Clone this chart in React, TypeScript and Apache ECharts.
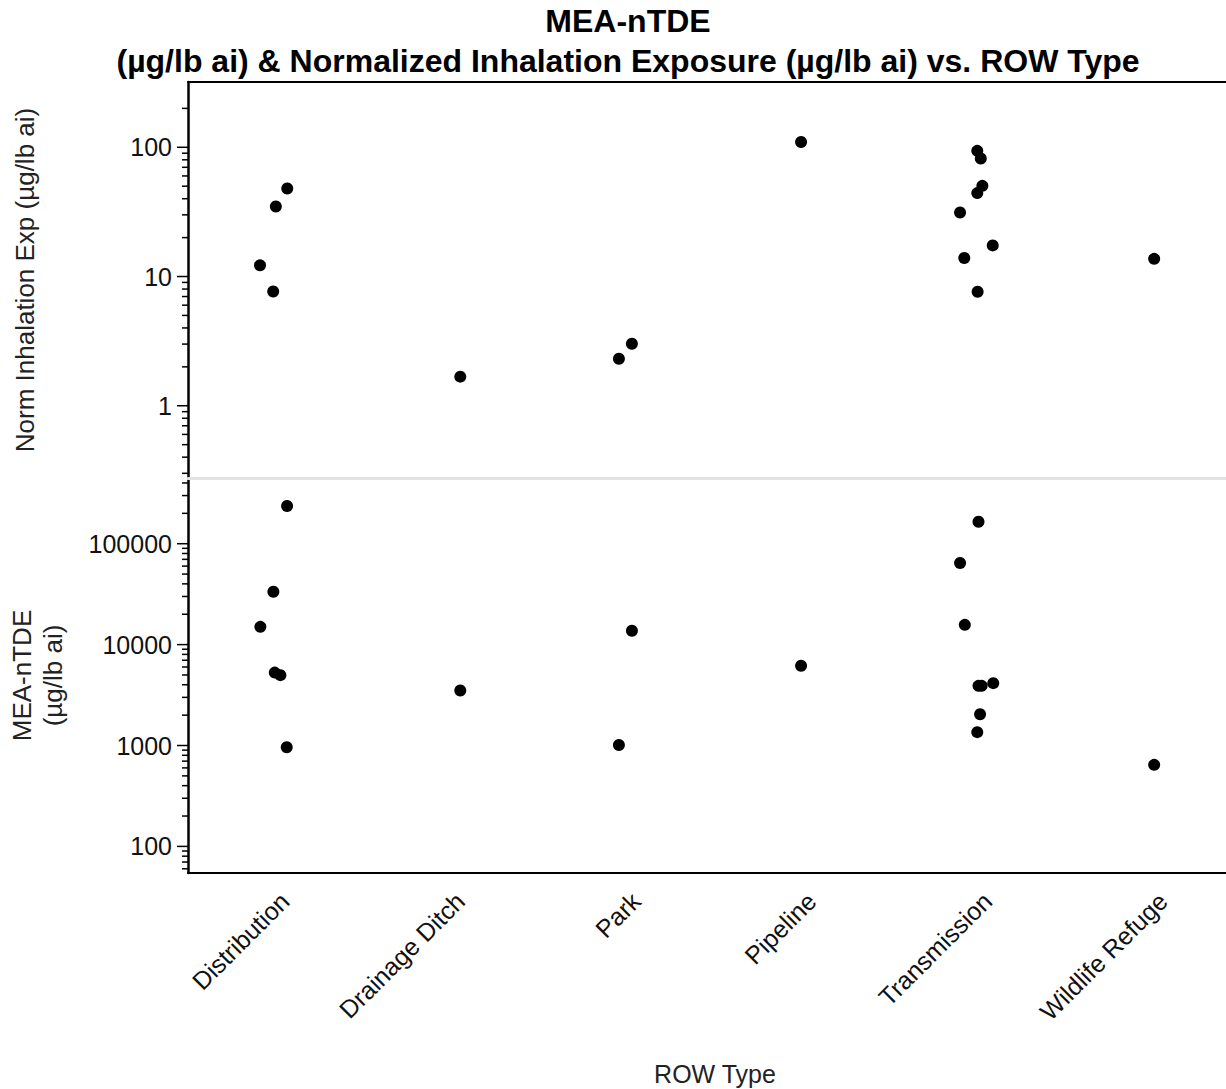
import React, { useEffect, useRef } from "react";
import * as echarts from "echarts";

const categories = [
  "Distribution",
  "Drainage Ditch",
  "Park",
  "Pipeline",
  "Transmission",
  "Wildlife Refuge",
];

// [category index, horizontal jitter (fraction of a band), value]
const inhalationPoints: [number, number, number][] = [
  [0, 0.065, 48],
  [0, 0.0, 34.8],
  [0, -0.09, 12.2],
  [0, -0.015, 7.66],
  [1, 0.05, 1.68],
  [2, -0.047, 2.31],
  [2, 0.027, 3.02],
  [3, -0.01, 110],
  [4, -0.007, 93.8],
  [4, 0.013, 81.8],
  [4, 0.022, 50.3],
  [4, -0.007, 44.2],
  [4, -0.105, 31.3],
  [4, 0.081, 17.4],
  [4, -0.081, 13.9],
  [4, -0.005, 7.62],
  [5, 0.0, 13.7],
];

const meaPoints: [number, number, number][] = [
  [0, 0.064, 236600],
  [0, -0.014, 33400],
  [0, -0.088, 15000],
  [0, -0.006, 5280],
  [0, 0.026, 4980],
  [0, 0.062, 962],
  [1, 0.05, 3510],
  [2, 0.027, 13700],
  [2, -0.047, 1010],
  [3, -0.01, 6170],
  [4, 0.0, 165000],
  [4, -0.105, 64400],
  [4, -0.078, 15700],
  [4, 0.0, 3900],
  [4, 0.018, 3900],
  [4, 0.084, 4150],
  [4, 0.009, 2040],
  [4, -0.007, 1356],
  [5, 0.0, 643],
];

const inhalationMajorTicks = [1, 10, 100];
const inhalationMinorTicks = [
  0.3, 0.4, 0.5, 0.6, 0.7, 0.8, 0.9, 2, 3, 4, 5, 6, 7, 8, 9, 20, 30, 40, 50,
  60, 70, 80, 90, 200,
];
const meaMajorTicks = [100, 1000, 10000, 100000];
const meaMinorTicks = [
  60, 70, 80, 90, 200, 300, 400, 500, 600, 700, 800, 900, 2000, 3000, 4000,
  5000, 6000, 7000, 8000, 9000, 20000, 30000, 40000, 50000, 60000, 70000,
  80000, 90000, 200000, 300000, 400000,
];

const inhalationRange = [0.276, 320];
const meaRange = [54.5, 448000];

const titleText =
  "MEA-nTDE\n(µg/lb ai) & Normalized Inhalation Exposure (µg/lb ai) vs. ROW Type";
const inhalationAxisName = "Norm Inhalation Exp (µg/lb ai)";
const meaAxisName = "MEA-nTDE\n(µg/lb ai)";
const xAxisName = "ROW Type";

const FONT = "'Liberation Sans', Arial, sans-serif";

function labelFormatter(ticks: number[]) {
  return (v: number) => {
    const hit = ticks.find(
      (t) => Math.abs(Math.log10(v) - Math.log10(t)) < 1e-6
    );
    return hit !== undefined ? String(hit) : "";
  };
}

function tickSeries(
  ticks: number[],
  len: number,
  xAxisIndex: number,
  yAxisIndex: number
) {
  return {
    type: "custom",
    xAxisIndex,
    yAxisIndex,
    silent: true,
    clip: false,
    z: 5,
    data: ticks.map((v) => [0, v]),
    renderItem: (params: any, api: any) => {
      const y = api.coord([0, api.value(1)])[1];
      const x0 = params.coordSys.x;
      return {
        type: "line",
        shape: { x1: x0 - len, y1: y, x2: x0, y2: y },
        style: { stroke: "#000", lineWidth: 1.5 },
      };
    },
  };
}

export default function App() {
  const ref = useRef<HTMLDivElement>(null);

  useEffect(() => {
    if (!ref.current) return;
    const chart = echarts.init(ref.current, undefined, { renderer: "svg" });

    const hiddenValueX = (gridIndex: number, position: string, lineStyle: any) => ({
      type: "value",
      gridIndex,
      position,
      min: -0.5,
      max: 5.5,
      axisLine: { show: true, onZero: false, lineStyle },
      axisTick: { show: false },
      axisLabel: { show: false },
      splitLine: { show: false },
    });

    const logY = (
      gridIndex: number,
      range: number[],
      ticks: number[],
      name: string,
      nameGap: number
    ) => ({
      type: "log",
      logBase: 10,
      gridIndex,
      min: range[0],
      max: range[1],
      name,
      nameLocation: "middle",
      nameGap,
      nameMoveOverlap: false,
      nameTextStyle: {
        fontSize: 26,
        color: "#222",
        fontFamily: FONT,
        lineHeight: 31,
        align: "center",
      },
      axisLine: { show: true, onZero: false, lineStyle: { color: "#000", width: 2.5 } },
      axisTick: { show: false },
      minorTick: { show: false },
      splitLine: { show: false },
      axisLabel: {
        fontSize: 25,
        color: "#111",
        fontFamily: FONT,
        margin: 16,
        formatter: labelFormatter(ticks),
      },
    });

    const scatterStyle = { color: "#000", opacity: 1 };

    const option: any = {
      animation: false,
      backgroundColor: "#fff",
      textStyle: { fontFamily: FONT },
      title: {
        text: titleText,
        left: 623,
        top: -4,
        textAlign: "center",
        textStyle: {
          fontSize: 32,
          fontWeight: "bold",
          color: "#000",
          fontFamily: FONT,
          lineHeight: 40,
        },
      },
      grid: [
        { left: 188, top: 82, width: 1054, height: 396, containLabel: false, outerBoundsMode: "none" },
        { left: 188, top: 478, width: 1054, height: 395, containLabel: false, outerBoundsMode: "none" },
      ],
      xAxis: [
        hiddenValueX(0, "bottom", { color: "#e2e2e2", width: 3 }),
        hiddenValueX(0, "top", { color: "#000", width: 2 }),
        hiddenValueX(1, "bottom", { color: "#000", width: 2 }),
        {
          type: "category",
          gridIndex: 1,
          position: "bottom",
          data: categories,
          boundaryGap: true,
          axisLine: { show: false },
          axisTick: { show: false },
          splitLine: { show: false },
          axisLabel: {
            rotate: 45,
            interval: 0,
            fontSize: 25,
            color: "#111",
            fontFamily: FONT,
            margin: 15,
            verticalAlign: "top",
          },
          name: xAxisName,
          nameLocation: "middle",
          nameGap: 188,
          nameMoveOverlap: false,
          nameTextStyle: { fontSize: 25, color: "#222", fontFamily: FONT },
        },
      ],
      yAxis: [
        logY(0, inhalationRange, inhalationMajorTicks, inhalationAxisName, 148),
        logY(1, meaRange, meaMajorTicks, meaAxisName, 120),
      ],
      series: [
        {
          type: "scatter",
          xAxisIndex: 0,
          yAxisIndex: 0,
          symbol: "circle",
          symbolSize: 12,
          itemStyle: scatterStyle,
          data: inhalationPoints.map((p) => [p[0] + p[1], p[2]]),
        },
        {
          type: "scatter",
          xAxisIndex: 2,
          yAxisIndex: 1,
          symbol: "circle",
          symbolSize: 12,
          itemStyle: scatterStyle,
          data: meaPoints.map((p) => [p[0] + p[1], p[2]]),
        },
        tickSeries(inhalationMajorTicks, 11, 0, 0),
        tickSeries(inhalationMinorTicks, 6, 0, 0),
        tickSeries(meaMajorTicks, 11, 2, 1),
        tickSeries(meaMinorTicks, 6, 2, 1),
      ],
    };

    chart.setOption(option);
    return () => chart.dispose();
  }, []);

  return (
    <div
      ref={ref}
      style={{
        position: "fixed",
        left: 0,
        top: 0,
        width: 1226,
        height: 1089,
        background: "#fff",
      }}
    />
  );
}
